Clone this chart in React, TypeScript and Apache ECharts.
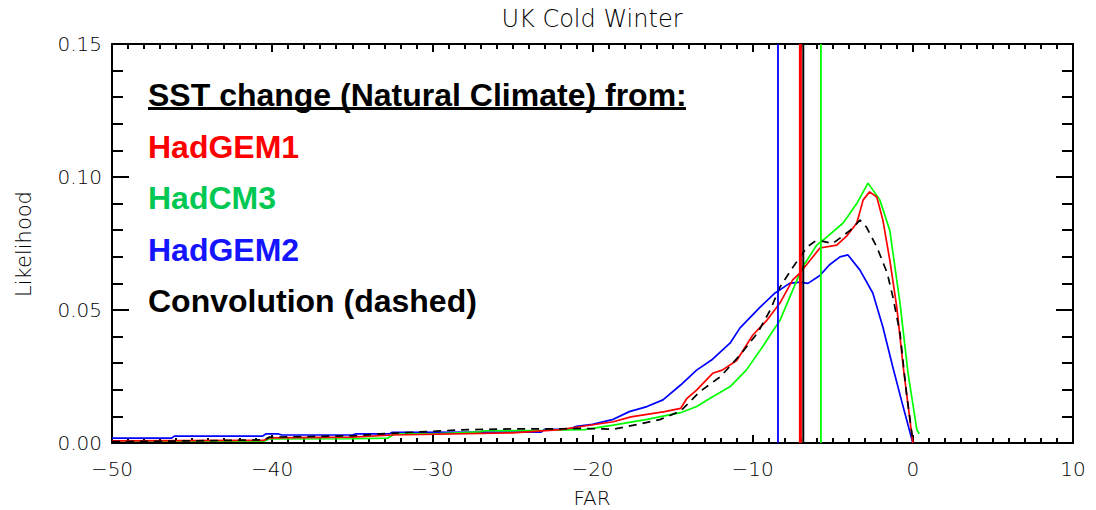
import React, { useEffect, useRef } from "react";
import * as echarts from "echarts";

// FAR vs likelihood curves, one [far, likelihood] list per SST-change source
const hadgem1: [number, number][] = [
  [-50, 0.0008], [-40.5, 0.001], [-40.2, 0.0019], [-35, 0.0022], [-32.5, 0.003],
  [-25, 0.0038], [-22, 0.005], [-20.8, 0.0061], [-18.7, 0.008], [-17.6, 0.0098],
  [-15.5, 0.0118], [-14.5, 0.013], [-14.1, 0.0168], [-13.5, 0.0199], [-12.5, 0.0262],
  [-11.9, 0.0274], [-11.0, 0.031], [-10, 0.0405], [-9.1, 0.0462], [-8.3, 0.0526],
  [-7.5, 0.0613], [-7.05, 0.0639], [-6.4, 0.0688], [-5.8, 0.0733], [-4.75, 0.0744],
  [-4.1, 0.078], [-3.5, 0.0827], [-3.1, 0.0914], [-2.7, 0.0944], [-2.25, 0.0925],
  [-1.87, 0.0838], [-1.44, 0.0688], [-1.0, 0.051], [-0.6, 0.0286], [0, 0],
];

const hadcm3: [number, number][] = [
  [-50, 0.0007], [-40.5, 0.0007], [-40.2, 0.0015], [-35, 0.0016], [-32.8, 0.0018],
  [-32.4, 0.0033], [-29.5, 0.0035], [-27, 0.0042], [-26.8, 0.0046], [-23, 0.0048],
  [-20.5, 0.005], [-18.7, 0.0067], [-16.6, 0.0089], [-14.5, 0.0114], [-13.5, 0.0137],
  [-12.5, 0.0174], [-11.4, 0.0212], [-10.4, 0.0274], [-9.4, 0.036], [-8.7, 0.0425],
  [-8.3, 0.046], [-7.5, 0.0575], [-6.9, 0.066], [-6.0, 0.0744], [-5.6, 0.0763],
  [-4.35, 0.0827], [-3.5, 0.09], [-2.8, 0.0977], [-2.06, 0.0914], [-1.44, 0.08],
  [-0.8, 0.0526], [-0.3, 0.0263], [0.25, 0.005], [0.4, 0.0035],
];

const hadgem2: [number, number][] = [
  [-50, 0.0018], [-46.3, 0.0018], [-46.1, 0.0026], [-40.6, 0.0026], [-40.4, 0.0034],
  [-39.6, 0.0034], [-39.4, 0.003], [-35, 0.003], [-34.8, 0.0034], [-32.7, 0.0034],
  [-32.5, 0.004], [-23.2, 0.0041], [-23, 0.0051], [-21.5, 0.0051], [-21, 0.0063],
  [-20, 0.007], [-18.7, 0.0089], [-17.7, 0.0118], [-16.6, 0.0137], [-15.6, 0.0162],
  [-14.5, 0.0218], [-13.5, 0.0274], [-12.5, 0.0315], [-11.4, 0.0376], [-10.8, 0.0432],
  [-9.55, 0.051], [-8.6, 0.0564], [-7.7, 0.06], [-7.05, 0.0605], [-6.55, 0.06],
  [-5.8, 0.063], [-5.2, 0.067], [-4.55, 0.07], [-4.05, 0.0707], [-3.3, 0.065],
  [-2.5, 0.0564], [-1.87, 0.0436], [-1.25, 0.0286], [-0.6, 0.0135], [0, 0],
];

const convolution: [number, number][] = [
  [-50, 0.0005], [-45, 0.0008], [-40.5, 0.0012], [-40.2, 0.0022], [-35, 0.0027],
  [-33, 0.0035], [-30, 0.0044], [-28.5, 0.0049], [-25, 0.0053], [-22, 0.0053],
  [-20.8, 0.0055], [-18.7, 0.0052], [-18, 0.006], [-17, 0.0072], [-15.8, 0.0088],
  [-14.5, 0.012], [-13.3, 0.0193], [-12, 0.025], [-10.8, 0.033], [-9.7, 0.0413],
  [-8.9, 0.05], [-8.3, 0.0586], [-7.5, 0.066], [-6.6, 0.0737], [-6.0, 0.0763],
  [-5.0, 0.075], [-3.9, 0.08], [-3.3, 0.0838], [-2.9, 0.0812], [-2.25, 0.0737],
  [-1.6, 0.0639], [-1.25, 0.055], [-0.8, 0.0413], [-0.4, 0.0188], [0, 0.001],
];

// best-estimate FAR marked by a vertical line for each source
const bestFar = { hadgem2: -8.42, hadgem1: -7.02, convolution: -6.84, hadcm3: -5.74 };

const xTicks = { min: -50, max: 10, step: 10 };
const yTicks = { min: 0, max: 0.15, step: 0.05 };

const legendLines = [
  { text: "HadGEM1", color: "#ff0000" },
  { text: "HadCM3", color: "#00c853" },
  { text: "HadGEM2", color: "#1414ff" },
  { text: "Convolution (dashed)", color: "#000000" },
];

const AXIS_FONT = "DejaVu Sans";
const LEGEND_FONT = "bold 32px 'Liberation Sans', Arial, sans-serif";

function vline(x: number, color: string, width: number) {
  return {
    type: "line",
    data: [[x, yTicks.min], [x, yTicks.max]],
    symbol: "none",
    silent: true,
    lineStyle: { color, width },
    z: 3,
  };
}

function curve(data: [number, number][], color: string, dashed = false) {
  return {
    type: "line",
    data,
    symbol: "none",
    silent: true,
    lineStyle: { color, width: 1.7, type: dashed ? [8, 6] : "solid" },
    z: 2,
  };
}

export default function App() {
  const ref = useRef<HTMLDivElement>(null);

  useEffect(() => {
    if (!ref.current) return;
    const chart = echarts.init(ref.current, null, { renderer: "svg" });

    const fmtX = (v: number) => (v < 0 ? "\u2212" + Math.abs(v) : String(v));
    const axisCommon = {
      axisLine: { show: true, onZero: false, lineStyle: { color: "#000", width: 2 } },
      splitLine: { show: false },
    };

    const xBase = {
      type: "value",
      min: xTicks.min,
      max: xTicks.max,
      interval: xTicks.step,
      ...axisCommon,
      axisTick: { show: true, inside: true, length: 8, lineStyle: { color: "#000", width: 2 } },
      minorTick: { show: true, splitNumber: 10, length: 5, lineStyle: { color: "#000", width: 2 } },
    };
    const yBase = {
      type: "value",
      min: yTicks.min,
      max: yTicks.max,
      interval: yTicks.step,
      ...axisCommon,
      axisTick: { show: true, inside: true, length: 17, lineStyle: { color: "#000", width: 2 } },
      minorTick: { show: true, splitNumber: 5, length: 11, lineStyle: { color: "#000", width: 2 } },
    };

    const legendGraphics: any[] = [
      {
        type: "text",
        x: 148,
        y: 95,
        style: {
          text: "SST change (Natural Climate) from:",
          fill: "#000",
          font: LEGEND_FONT,
          verticalAlign: "middle",
        },
      },
      {
        type: "line",
        shape: { x1: 148, y1: 108.5, x2: 686, y2: 108.5 },
        style: { stroke: "#000", lineWidth: 3 },
      },
    ];
    legendLines.forEach((l, i) => {
      legendGraphics.push({
        type: "text",
        x: 148,
        y: 147 + i * 51.3,
        style: {
          text: l.text,
          fill: l.color,
          font: LEGEND_FONT,
          verticalAlign: "middle",
        },
      });
    });

    const labelStyle = {
      color: "#000",
      fontFamily: AXIS_FONT,
      fontSize: 20,
      fontWeight: 200,
    };

    const option = {
      animation: false,
      backgroundColor: "#fff",
      grid: { left: 112, right: 23, top: 44, bottom: 67, containLabel: false },
      xAxis: [
        {
          ...xBase,
          position: "bottom",
          axisLabel: { show: true, margin: 16, formatter: fmtX, ...labelStyle },
        },
        { ...xBase, position: "top", axisLabel: { show: false } },
      ],
      yAxis: [
        {
          ...yBase,
          position: "left",
          axisLabel: {
            show: true,
            margin: 10,
            formatter: (v: number) => v.toFixed(2),
            ...labelStyle,
          },
        },
        { ...yBase, position: "right", axisLabel: { show: false } },
      ],
      series: [
        curve(hadgem2, "#0000ff"),
        curve(hadcm3, "#00ff00"),
        curve(hadgem1, "#ff0000"),
        curve(convolution, "#000000", true),
        vline(bestFar.hadgem2, "#0000ff", 1.8),
        vline(bestFar.hadgem1, "#ff0000", 3),
        vline(bestFar.convolution, "#000000", 2),
        vline(bestFar.hadcm3, "#00ff00", 1.8),
      ],
      graphic: [
        {
          type: "text",
          x: 592,
          y: 19,
          style: {
            text: "UK Cold Winter",
            fill: "#000",
            font: `200 24px '${AXIS_FONT}', sans-serif`,
            align: "center",
            verticalAlign: "middle",
          },
        },
        {
          type: "text",
          x: 592,
          y: 498,
          style: {
            text: "FAR",
            fill: "#000",
            font: `200 20px '${AXIS_FONT}', sans-serif`,
            align: "center",
            verticalAlign: "middle",
          },
        },
        {
          type: "text",
          x: 24,
          y: 244,
          rotation: Math.PI / 2,
          style: {
            text: "Likelihood",
            fill: "#000",
            font: `200 21px '${AXIS_FONT}', sans-serif`,
            align: "center",
            verticalAlign: "middle",
          },
        },
        ...legendGraphics,
      ],
    };

    chart.setOption(option as any);
    return () => chart.dispose();
  }, []);

  return (
    <div
      ref={ref}
      style={{ position: "absolute", left: 0, top: 0, width: 1096, height: 510 }}
    />
  );
}
